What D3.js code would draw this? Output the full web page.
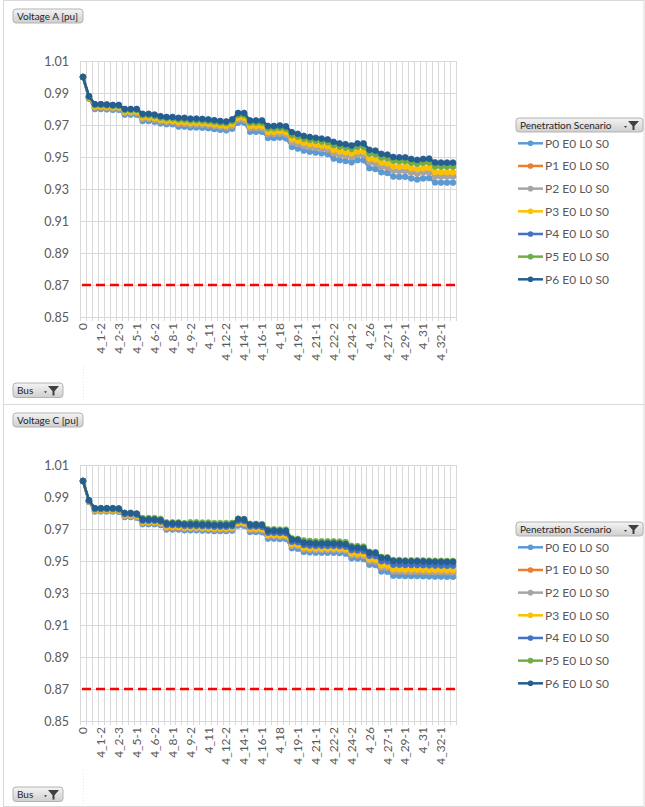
<!DOCTYPE html>
<html>
<head>
<meta charset="utf-8">
<script src="https://cdn.jsdelivr.net/npm/d3@7"></script>
<style>
  html, body { margin: 0; padding: 0; background: #fff; }
  svg { display: block; font-family: Lato, "Open Sans", sans-serif; }
</style>
</head>
<body>
<svg id="chart" width="645" height="807"></svg>
<script>
// ---------------- DATA ----------------
const categories = ["0","4_1","4_1-1","4_1-2","4_2-1","4_2-2","4_2-3","4_3","4_4","4_5-1",
  "4_5-2","4_6-1","4_6-2","4_7","4_7-1","4_8-1","4_8-2","4_9-1","4_9-2","4_10",
  "4_10-1","4_11","4_11-1","4_12-1","4_12-2","4_13","4_13-1","4_14-1","4_14-2","4_15",
  "4_16-1","4_16-2","4_17","4_18","4_18-1","4_19","4_19-1","4_20","4_20-1","4_21-1",
  "4_21-2","4_22-1","4_22-2","4_23","4_24-1","4_24-2","4_25","4_25-1","4_26","4_26-1",
  "4_27","4_27-1","4_28","4_29","4_29-1","4_30","4_30-1","4_31","4_31-1","4_32",
  "4_32-1","4_32-2","4_33"];
const labeledCategories = ["0","4_1-2","4_2-3","4_5-1","4_6-2","4_8-1","4_9-2","4_11","4_12-2","4_14-1",
  "4_16-1","4_18","4_19-1","4_21-1","4_22-2","4_24-2","4_26","4_27-1","4_29-1","4_31","4_32-1"];
const seriesNames = ["P0 E0 L0 S0","P1 E0 L0 S0","P2 E0 L0 S0","P3 E0 L0 S0","P4 E0 L0 S0","P5 E0 L0 S0","P6 E0 L0 S0"];
const yTicks = [0.85,0.87,0.89,0.91,0.93,0.95,0.97,0.99,1.01];
const limitValue = 0.87;

// Voltage A [pu]
const voltageA_P0 = [1.0000,0.9865,0.9800,0.9800,0.9798,0.9795,0.9795,0.9765,0.9765,0.9765,
  0.9725,0.9725,0.9720,0.9710,0.9705,0.9705,0.9690,0.9690,0.9685,0.9685,
  0.9683,0.9680,0.9675,0.9670,0.9667,0.9677,0.9715,0.9715,0.9658,0.9658,
  0.9658,0.9619,0.9619,0.9622,0.9617,0.9563,0.9553,0.9540,0.9533,0.9528,
  0.9523,0.9518,0.9490,0.9480,0.9475,0.9467,0.9480,0.9480,0.9430,0.9425,
  0.9405,0.9400,0.9378,0.9376,0.9376,0.9366,0.9360,0.9366,0.9368,0.9341,
  0.9340,0.9340,0.9340];
const voltageA_P1 = [1.0000,0.9869,0.9809,0.9809,0.9807,0.9804,0.9804,0.9775,0.9775,0.9775,
  0.9738,0.9738,0.9733,0.9723,0.9718,0.9718,0.9707,0.9707,0.9702,0.9702,
  0.9700,0.9697,0.9692,0.9687,0.9684,0.9695,0.9733,0.9733,0.9679,0.9679,
  0.9679,0.9642,0.9642,0.9645,0.9640,0.9591,0.9581,0.9568,0.9561,0.9556,
  0.9551,0.9546,0.9523,0.9513,0.9508,0.9500,0.9513,0.9513,0.9466,0.9461,
  0.9441,0.9436,0.9416,0.9414,0.9414,0.9404,0.9398,0.9404,0.9406,0.9380,
  0.9379,0.9379,0.9379];
const voltageA_P2 = [1.0000,0.9870,0.9810,0.9810,0.9808,0.9805,0.9805,0.9776,0.9776,0.9776,
  0.9739,0.9739,0.9734,0.9724,0.9719,0.9719,0.9708,0.9708,0.9703,0.9703,
  0.9701,0.9698,0.9693,0.9688,0.9685,0.9696,0.9734,0.9734,0.9680,0.9680,
  0.9680,0.9643,0.9643,0.9646,0.9641,0.9592,0.9582,0.9569,0.9562,0.9557,
  0.9552,0.9547,0.9524,0.9514,0.9509,0.9501,0.9514,0.9514,0.9467,0.9462,
  0.9442,0.9437,0.9417,0.9415,0.9415,0.9405,0.9399,0.9405,0.9407,0.9381,
  0.9380,0.9380,0.9380];
const voltageA_P3 = [1.0000,0.9873,0.9816,0.9816,0.9814,0.9811,0.9811,0.9783,0.9783,0.9783,
  0.9748,0.9748,0.9743,0.9733,0.9728,0.9728,0.9719,0.9719,0.9714,0.9714,
  0.9712,0.9709,0.9704,0.9699,0.9696,0.9707,0.9746,0.9746,0.9694,0.9694,
  0.9694,0.9658,0.9658,0.9661,0.9656,0.9611,0.9601,0.9588,0.9581,0.9576,
  0.9571,0.9566,0.9545,0.9535,0.9530,0.9522,0.9535,0.9535,0.9490,0.9485,
  0.9465,0.9460,0.9442,0.9440,0.9440,0.9430,0.9424,0.9430,0.9432,0.9406,
  0.9405,0.9405,0.9405];
const voltageA_P4 = [1.0000,0.9879,0.9828,0.9828,0.9826,0.9823,0.9823,0.9797,0.9797,0.9797,
  0.9766,0.9766,0.9761,0.9751,0.9746,0.9746,0.9741,0.9741,0.9736,0.9736,
  0.9734,0.9731,0.9726,0.9721,0.9718,0.9730,0.9770,0.9770,0.9722,0.9722,
  0.9722,0.9688,0.9688,0.9691,0.9686,0.9648,0.9638,0.9625,0.9618,0.9613,
  0.9608,0.9603,0.9587,0.9577,0.9572,0.9564,0.9577,0.9577,0.9536,0.9531,
  0.9511,0.9506,0.9490,0.9488,0.9488,0.9478,0.9472,0.9478,0.9480,0.9456,
  0.9455,0.9455,0.9455];
const voltageA_P5 = [1.0000,0.9877,0.9824,0.9824,0.9822,0.9819,0.9819,0.9793,0.9793,0.9793,
  0.9761,0.9761,0.9756,0.9746,0.9741,0.9741,0.9734,0.9734,0.9729,0.9729,
  0.9727,0.9724,0.9719,0.9714,0.9711,0.9723,0.9763,0.9763,0.9714,0.9714,
  0.9714,0.9679,0.9679,0.9682,0.9677,0.9637,0.9627,0.9614,0.9607,0.9602,
  0.9597,0.9592,0.9574,0.9564,0.9559,0.9551,0.9564,0.9564,0.9522,0.9517,
  0.9497,0.9492,0.9476,0.9474,0.9474,0.9464,0.9458,0.9464,0.9466,0.9441,
  0.9440,0.9440,0.9440];
const voltageA_P6 = [1.0000,0.9880,0.9830,0.9830,0.9828,0.9825,0.9825,0.9800,0.9800,0.9800,
  0.9770,0.9770,0.9765,0.9755,0.9750,0.9750,0.9745,0.9745,0.9740,0.9740,
  0.9738,0.9735,0.9730,0.9725,0.9722,0.9735,0.9775,0.9775,0.9728,0.9728,
  0.9728,0.9694,0.9694,0.9697,0.9692,0.9655,0.9645,0.9632,0.9625,0.9620,
  0.9615,0.9610,0.9595,0.9585,0.9580,0.9572,0.9585,0.9585,0.9545,0.9540,
  0.9520,0.9515,0.9500,0.9498,0.9498,0.9488,0.9482,0.9488,0.9490,0.9466,
  0.9465,0.9465,0.9465];

// Voltage C [pu]
const voltageC_P0 = [1.0000,0.9870,0.9810,0.9810,0.9810,0.9810,0.9808,0.9775,0.9775,0.9771,
  0.9730,0.9730,0.9730,0.9725,0.9697,0.9697,0.9697,0.9692,0.9692,0.9692,
  0.9690,0.9690,0.9687,0.9687,0.9687,0.9690,0.9722,0.9720,0.9682,0.9682,
  0.9680,0.9640,0.9640,0.9638,0.9638,0.9580,0.9577,0.9557,0.9554,0.9552,
  0.9552,0.9552,0.9552,0.9550,0.9547,0.9517,0.9515,0.9512,0.9477,0.9475,
  0.9435,0.9433,0.9408,0.9408,0.9406,0.9406,0.9406,0.9405,0.9404,0.9403,
  0.9403,0.9402,0.9402];
const voltageC_P1 = [1.0000,0.9872,0.9815,0.9815,0.9815,0.9815,0.9813,0.9781,0.9781,0.9777,
  0.9738,0.9738,0.9738,0.9733,0.9707,0.9707,0.9707,0.9702,0.9702,0.9702,
  0.9700,0.9700,0.9697,0.9697,0.9697,0.9700,0.9733,0.9731,0.9694,0.9694,
  0.9692,0.9654,0.9654,0.9652,0.9652,0.9595,0.9592,0.9573,0.9570,0.9568,
  0.9568,0.9568,0.9568,0.9566,0.9563,0.9536,0.9534,0.9531,0.9498,0.9496,
  0.9459,0.9457,0.9435,0.9435,0.9433,0.9433,0.9433,0.9432,0.9431,0.9430,
  0.9430,0.9429,0.9429];
const voltageC_P2 = [1.0000,0.9873,0.9816,0.9816,0.9816,0.9816,0.9814,0.9782,0.9782,0.9778,
  0.9739,0.9739,0.9739,0.9734,0.9708,0.9708,0.9708,0.9703,0.9703,0.9703,
  0.9701,0.9701,0.9698,0.9698,0.9698,0.9701,0.9734,0.9732,0.9695,0.9695,
  0.9693,0.9655,0.9655,0.9653,0.9653,0.9596,0.9593,0.9574,0.9571,0.9569,
  0.9569,0.9569,0.9569,0.9567,0.9564,0.9537,0.9535,0.9532,0.9499,0.9497,
  0.9460,0.9458,0.9436,0.9436,0.9434,0.9434,0.9434,0.9433,0.9432,0.9431,
  0.9431,0.9430,0.9430];
const voltageC_P3 = [1.0000,0.9875,0.9819,0.9819,0.9819,0.9819,0.9817,0.9786,0.9786,0.9782,
  0.9743,0.9743,0.9743,0.9738,0.9714,0.9714,0.9714,0.9709,0.9709,0.9709,
  0.9707,0.9707,0.9704,0.9704,0.9704,0.9707,0.9740,0.9738,0.9702,0.9702,
  0.9700,0.9662,0.9662,0.9660,0.9660,0.9605,0.9602,0.9583,0.9580,0.9578,
  0.9578,0.9578,0.9578,0.9576,0.9573,0.9548,0.9546,0.9543,0.9511,0.9509,
  0.9473,0.9471,0.9449,0.9449,0.9447,0.9447,0.9447,0.9446,0.9445,0.9444,
  0.9444,0.9443,0.9443];
const voltageC_P4 = [1.0000,0.9877,0.9825,0.9825,0.9825,0.9825,0.9823,0.9794,0.9794,0.9790,
  0.9752,0.9752,0.9752,0.9747,0.9725,0.9725,0.9725,0.9720,0.9720,0.9720,
  0.9718,0.9718,0.9715,0.9715,0.9715,0.9718,0.9752,0.9750,0.9716,0.9716,
  0.9714,0.9677,0.9677,0.9675,0.9675,0.9621,0.9618,0.9600,0.9597,0.9595,
  0.9595,0.9595,0.9595,0.9593,0.9590,0.9568,0.9566,0.9563,0.9533,0.9531,
  0.9499,0.9497,0.9477,0.9477,0.9475,0.9475,0.9475,0.9474,0.9473,0.9472,
  0.9472,0.9471,0.9471];
const voltageC_P5 = [1.0000,0.9878,0.9829,0.9829,0.9829,0.9829,0.9827,0.9800,0.9800,0.9796,
  0.9768,0.9768,0.9768,0.9763,0.9741,0.9741,0.9741,0.9736,0.9742,0.9742,
  0.9740,0.9740,0.9737,0.9737,0.9737,0.9738,0.9764,0.9762,0.9732,0.9732,
  0.9730,0.9698,0.9698,0.9696,0.9696,0.9641,0.9638,0.9628,0.9625,0.9623,
  0.9623,0.9623,0.9623,0.9621,0.9618,0.9595,0.9593,0.9590,0.9557,0.9555,
  0.9525,0.9523,0.9506,0.9506,0.9504,0.9504,0.9504,0.9503,0.9502,0.9501,
  0.9501,0.9500,0.9500];
const voltageC_P6 = [1.0000,0.9880,0.9830,0.9830,0.9830,0.9830,0.9828,0.9800,0.9800,0.9796,
  0.9760,0.9760,0.9760,0.9755,0.9735,0.9735,0.9735,0.9730,0.9730,0.9730,
  0.9728,0.9728,0.9725,0.9725,0.9725,0.9728,0.9762,0.9760,0.9727,0.9727,
  0.9725,0.9690,0.9690,0.9688,0.9688,0.9635,0.9632,0.9615,0.9612,0.9610,
  0.9610,0.9610,0.9610,0.9608,0.9605,0.9585,0.9583,0.9580,0.9552,0.9550,
  0.9520,0.9518,0.9500,0.9500,0.9498,0.9498,0.9498,0.9497,0.9496,0.9495,
  0.9495,0.9494,0.9494];

// ---------------- STYLE ----------------
const palette = ["#5B9BD5","#ED7D31","#A5A5A5","#FFC000","#4472C4","#70AD47","#255E91"];
const svg = d3.select("#chart");

const defs = svg.append("defs");
const grad = defs.append("linearGradient").attr("id","btn").attr("x1",0).attr("y1",0).attr("x2",0).attr("y2",1);
grad.append("stop").attr("offset","0%").attr("stop-color","#f4f4f4");
grad.append("stop").attr("offset","100%").attr("stop-color","#cfcfcf");

// outer frame
svg.append("rect").attr("x",3.5).attr("y",0.5).attr("width",640.5).attr("height",806)
  .attr("fill","none").attr("stroke","#d9d9d9");
svg.append("line").attr("x1",3.5).attr("x2",644).attr("y1",404.5).attr("y2",404.5).attr("stroke","#d9d9d9");

function button(g, x, y, w, h, label, withFilter) {
  const b = g.append("g").attr("transform", `translate(${x},${y})`);
  b.append("rect").attr("width", w).attr("height", h).attr("rx", 3).attr("ry", 3)
    .attr("fill", "url(#btn)").attr("stroke", "#b3b3b3");
  b.append("text").attr("x", 4).attr("y", h/2).attr("dy","0.35em")
    .attr("font-size", 10).attr("fill", "#262626").text(label);
  if (withFilter) {
    const fx = w - 13;
    b.append("path").attr("d", `M${fx-6},${h/2+1} l3,0 l-1.5,2 z`).attr("fill","#404040");
    b.append("path").attr("d", `M${fx-2},${3} L${fx+9},${3} L${fx+4.5},${h/2+1} L${fx+4.5},${h-2} L${fx+2.5},${h-2} L${fx+2.5},${h/2+1} Z`)
      .attr("fill","#404040");
  }
}

function drawPanel(offsetY, title, seriesData) {
  const g = svg.append("g").attr("transform", `translate(0,${offsetY})`);
  const plotTop = 61, plotBottom = 317, plotLeft = 80, plotRight = 456;

  const x = d3.scaleBand().domain(categories).range([plotLeft, plotRight]).padding(0);
  const y = d3.scaleLinear().domain([yTicks[0], yTicks[yTicks.length-1]]).range([plotBottom, plotTop]);
  const cx = c => x(c) + x.bandwidth()/2;

  // horizontal gridlines
  g.append("g").selectAll("line").data(yTicks).join("line")
    .attr("x1", plotLeft).attr("x2", plotRight)
    .attr("y1", d => Math.round(y(d)) + 0.5).attr("y2", d => Math.round(y(d)) + 0.5)
    .attr("stroke", "#d9d9d9").attr("stroke-width", 1);
  // vertical gridlines at category boundaries
  const bounds = categories.map(c => x(c)).concat([x.range()[1]]);
  g.append("g").selectAll("line").data(bounds).join("line")
    .attr("x1", d => Math.round(d) + 0.5).attr("x2", d => Math.round(d) + 0.5)
    .attr("y1", plotTop).attr("y2", plotBottom + 4)
    .attr("stroke", "#d9d9d9").attr("stroke-width", 1);

  // y axis labels
  const yAxis = d3.axisLeft(y).tickValues(yTicks).tickFormat(d3.format(".2f")).tickSize(0).tickPadding(11);
  const ya = g.append("g").attr("transform", `translate(${plotLeft},0)`).call(yAxis);
  ya.select(".domain").remove();
  ya.selectAll("text").attr("font-family", "Lato, sans-serif").attr("font-size", 12.5).attr("fill", "#595959");

  // x axis labels
  const xAxis = d3.axisBottom(x).tickValues(labeledCategories).tickSize(0).tickPadding(0);
  const xa = g.append("g").attr("transform", `translate(0,${plotBottom + 6})`).call(xAxis);
  xa.select(".domain").remove();
  xa.selectAll("text")
    .attr("transform", "rotate(-90)")
    .attr("text-anchor", "end")
    .attr("x", 0).attr("y", 0).attr("dy", "0.35em")
    .attr("font-family", "Lato, sans-serif").attr("font-size", 12).attr("fill", "#595959");

  // limit line
  g.append("line")
    .attr("x1", plotLeft + 2).attr("x2", plotRight + 2)
    .attr("y1", y(limitValue)).attr("y2", y(limitValue))
    .attr("stroke", "#FF0000").attr("stroke-width", 2.6).attr("stroke-dasharray", "9,5");

  // series
  const line = d3.line().x((d, i) => cx(categories[i])).y(d => y(d));
  seriesData.forEach((vals, s) => {
    const sg = g.append("g");
    sg.append("path").datum(vals).attr("d", line)
      .attr("fill", "none").attr("stroke", palette[s]).attr("stroke-width", 2.5)
      .attr("stroke-linejoin", "round");
    sg.selectAll("circle").data(vals).join("circle")
      .attr("cx", (d, i) => cx(categories[i])).attr("cy", d => y(d)).attr("r", 2.9)
      .attr("fill", palette[s]).attr("stroke", palette[s]).attr("stroke-width", 0.8);
  });

  // legend
  button(g, 516, 118, 127, 14, "Penetration Scenario", true);
  const lg = g.append("g").selectAll("g").data(seriesNames).join("g")
    .attr("transform", (d, i) => `translate(518,${143.3 + i * 22.67})`);
  lg.append("line").attr("x1", 0).attr("x2", 25).attr("y1", 0).attr("y2", 0)
    .attr("stroke", (d, i) => palette[i]).attr("stroke-width", 2.5);
  lg.append("circle").attr("cx", 12.5).attr("cy", 0).attr("r", 2.8).attr("fill", (d, i) => palette[i]);
  lg.append("text").attr("x", 27).attr("y", 0).attr("dy", "0.35em")
    .attr("font-size", 12).attr("fill", "#595959").text(d => d);

  // field buttons
  button(g, 13, 9, 70, 14, title, false);
  button(g, 13, 383, 50, 14.5, "Bus", true);

  // faint dotted marks
  g.append("line").attr("x1", 83.5).attr("x2", 83.5).attr("y1", 366).attr("y2", 402)
    .attr("stroke", "#e6e6e6").attr("stroke-dasharray", "1,2");
}

drawPanel(0, "Voltage A [pu]", [voltageA_P0, voltageA_P1, voltageA_P2, voltageA_P3, voltageA_P4, voltageA_P5, voltageA_P6]);
drawPanel(404, "Voltage C [pu]", [voltageC_P0, voltageC_P1, voltageC_P2, voltageC_P3, voltageC_P4, voltageC_P5, voltageC_P6]);
</script>
</body>
</html>
